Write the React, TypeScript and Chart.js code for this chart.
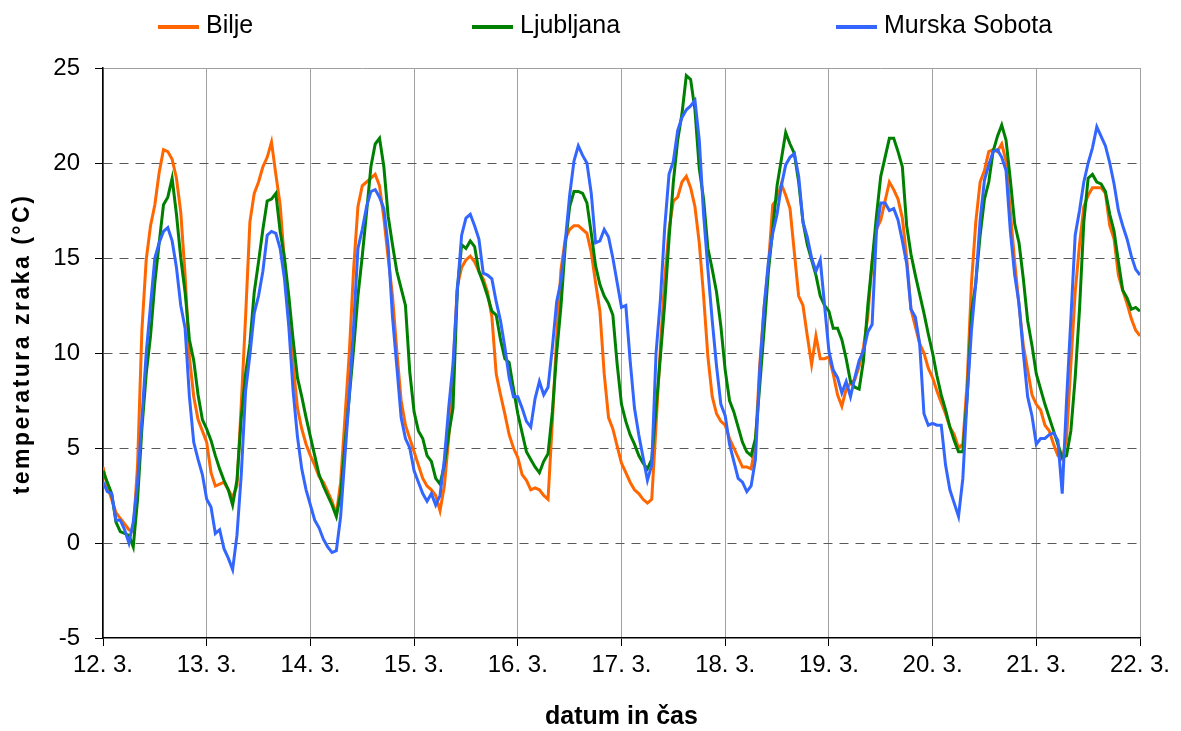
import React, { useEffect, useRef } from "react";
import { Chart, registerables } from "chart.js";

Chart.register(...registerables);
Chart.defaults.font.family = '"Liberation Sans", Arial, Helvetica, sans-serif';

// Day tick labels (x axis, one tick per day at 00:00)
const DAY_LABELS = ["12. 3.", "13. 3.", "14. 3.", "15. 3.", "16. 3.", "17. 3.", "18. 3.", "19. 3.", "20. 3.", "21. 3.", "22. 3."];
const HOURS_PER_DAY = 24;
const HOURS_PER_STEP = 1; // hourly readings

const SERIES_NAMES = ["Bilje", "Ljubljana", "Murska Sobota"];
const SERIES_COLORS = ["#FF6600", "#008000", "#3366FF"];

const BILJE = [
  4.0, 3.0, 2.3, 1.6, 1.3, 1.0, 0.7, 0.6, 4.1, 11.2, 14.9, 16.7, 17.8, 19.5, 20.7, 20.6, 20.2, 19.2, 17.4, 14.1, 9.8, 7.7, 6.5, 5.9,
  5.3, 3.7, 3.0, 3.1, 3.2, 2.8, 2.4, 3.0, 7.3, 11.9, 16.9, 18.4, 19.0, 19.8, 20.3, 21.1, 19.4, 17.8, 14.8, 11.7, 9.4, 7.1, 6.0, 5.2,
  4.6, 4.1, 3.5, 3.2, 2.7, 2.2, 1.5, 3.2, 6.6, 10.0, 14.4, 17.7, 18.8, 19.0, 19.2, 19.4, 18.8, 17.1, 15.0, 13.0, 10.1, 7.5, 6.2, 5.5,
  4.8, 4.1, 3.4, 3.0, 2.8, 2.5, 1.7, 3.0, 5.5, 9.1, 13.5, 14.5, 14.9, 15.1, 14.8, 14.3, 13.9, 13.2, 11.9, 8.9, 7.8, 6.8, 5.7, 5.0,
  4.5, 3.6, 3.3, 2.8, 2.9, 2.8, 2.5, 2.3, 6.4, 10.9, 14.4, 16.0, 16.5, 16.7, 16.7, 16.5, 16.3, 15.3, 13.7, 12.2, 8.9, 6.6, 6.0, 5.1,
  4.2, 3.7, 3.2, 2.8, 2.6, 2.3, 2.1, 2.3, 6.2, 10.3, 13.9, 16.5, 18.0, 18.2, 19.0, 19.3, 18.7, 17.7, 15.8, 13.0, 9.8, 7.7, 6.8, 6.4,
  6.2, 5.5, 5.0, 4.5, 4.0, 4.0, 3.9, 5.2, 9.4, 12.4, 14.6, 17.8, 18.1, 18.9, 18.3, 17.6, 15.3, 13.0, 12.5, 10.9, 9.4, 10.9, 9.7, 9.7,
  9.8, 8.9, 7.8, 7.2, 8.1, 8.4, 8.6, 9.3, 10.3, 11.9, 14.8, 16.5, 17.0, 18.0, 19.0, 18.6, 18.1, 17.1, 15.0, 12.3, 11.4, 10.5, 10.0, 9.2,
  8.7, 8.0, 7.4, 6.8, 6.1, 5.7, 5.0, 5.2, 8.5, 13.7, 16.9, 19.0, 19.6, 20.6, 20.7, 20.6, 21.0, 20.1, 17.4, 14.8, 12.5, 10.4, 9.1, 7.8,
  7.3, 7.0, 6.2, 5.9, 5.2, 4.6, 4.4, 5.5, 9.4, 13.2, 15.7, 17.7, 18.3, 18.7, 18.7, 18.7, 18.4, 16.7, 16.0, 14.1, 13.3, 12.6, 11.8, 11.2,
  10.9,
];

const LJUBLJANA = [
  3.8, 3.2, 2.6, 1.1, 0.6, 0.5, 0.4, -0.2, 2.3, 6.0, 8.9, 10.9, 13.7, 15.8, 17.8, 18.2, 19.2, 17.3, 15.0, 13.2, 10.7, 9.6, 7.8, 6.5,
  6.0, 5.4, 4.6, 3.9, 3.3, 2.8, 2.0, 3.3, 6.6, 8.9, 10.5, 13.2, 14.8, 16.5, 18.0, 18.1, 18.4, 16.4, 15.0, 13.0, 10.7, 8.7, 7.7, 6.6,
  5.6, 4.6, 3.6, 3.0, 2.5, 2.0, 1.4, 2.6, 5.2, 7.7, 10.2, 13.0, 15.1, 17.4, 19.8, 21.0, 21.3, 19.8, 17.2, 15.7, 14.3, 13.4, 12.5, 9.0,
  6.9, 5.9, 5.5, 4.6, 4.3, 3.4, 3.1, 4.1, 5.7, 7.1, 13.3, 15.7, 15.5, 15.9, 15.6, 14.3, 13.7, 13.0, 12.2, 12.0, 10.7, 9.7, 9.5, 8.1,
  6.8, 5.8, 4.8, 4.4, 4.0, 3.7, 4.3, 4.7, 6.9, 10.0, 12.5, 15.7, 17.7, 18.5, 18.5, 18.4, 17.9, 16.3, 14.6, 13.6, 13.0, 12.6, 12.0, 9.4,
  7.3, 6.4, 5.7, 5.2, 4.6, 4.2, 3.9, 4.4, 7.1, 9.8, 12.6, 16.0, 19.0, 21.2, 22.6, 24.6, 24.4, 22.8, 19.7, 18.1, 15.5, 14.4, 13.2, 11.4,
  9.1, 7.5, 6.9, 6.1, 5.3, 4.8, 4.6, 5.5, 8.3, 11.2, 14.3, 16.5, 18.8, 20.2, 21.6, 21.0, 20.5, 19.0, 16.9, 15.7, 14.9, 14.1, 13.0, 12.5,
  12.2, 11.3, 11.3, 10.7, 9.7, 8.5, 8.2, 8.1, 9.6, 12.5, 14.8, 17.2, 19.3, 20.3, 21.3, 21.3, 20.6, 19.8, 16.7, 15.2, 14.1, 13.1, 12.1, 11.0,
  10.0, 8.8, 7.8, 7.0, 6.1, 5.4, 4.8, 4.8, 7.7, 12.1, 13.7, 16.2, 18.1, 19.0, 20.6, 21.4, 22.0, 21.2, 19.1, 16.8, 15.8, 13.9, 11.7, 10.4,
  8.9, 8.1, 7.3, 6.6, 5.9, 5.2, 4.5, 4.6, 5.9, 8.7, 12.3, 16.9, 19.2, 19.4, 19.0, 18.9, 18.5, 17.3, 16.4, 14.8, 13.3, 12.9, 12.3, 12.4,
  12.2,
];

const MURSKA_SOBOTA = [
  3.2, 2.7, 2.6, 1.2, 1.2, 0.7, 0.0, 1.1, 3.2, 6.5, 10.0, 12.5, 15.0, 15.8, 16.4, 16.6, 15.9, 14.5, 12.5, 11.3, 7.7, 5.3, 4.4, 3.6,
  2.3, 1.9, 0.5, 0.7, -0.3, -0.8, -1.4, 0.4, 3.6, 8.0, 9.9, 12.1, 13.0, 14.3, 16.2, 16.4, 16.3, 15.5, 13.9, 11.4, 8.0, 5.6, 3.9, 2.8,
  2.0, 1.2, 0.8, 0.2, -0.2, -0.5, -0.4, 1.4, 4.6, 7.8, 11.4, 15.5, 16.5, 17.7, 18.5, 18.6, 18.2, 17.6, 15.6, 11.9, 9.3, 6.6, 5.5, 5.0,
  3.8, 3.2, 2.6, 2.2, 2.6, 2.0, 2.5, 4.4, 7.1, 9.4, 13.3, 16.2, 17.1, 17.3, 16.7, 16.0, 14.2, 14.1, 13.9, 12.7, 11.7, 10.3, 8.7, 7.7,
  7.7, 7.1, 6.4, 6.1, 7.6, 8.5, 7.8, 8.2, 10.3, 12.7, 13.8, 15.9, 18.3, 20.1, 20.9, 20.4, 20.0, 18.4, 15.8, 15.9, 16.5, 16.1, 15.0, 13.7,
  12.4, 12.5, 9.6, 7.1, 5.7, 4.5, 3.3, 4.1, 10.0, 12.8, 16.6, 19.4, 20.1, 21.7, 22.4, 22.8, 23.0, 23.3, 21.2, 17.3, 14.4, 11.7, 9.3, 7.3,
  6.7, 5.2, 4.3, 3.4, 3.2, 2.7, 3.0, 4.4, 9.1, 12.4, 14.8, 16.3, 17.3, 18.8, 19.9, 20.3, 20.5, 19.3, 16.9, 16.1, 15.0, 14.3, 14.9, 12.5,
  10.1, 9.1, 8.7, 7.9, 8.5, 7.7, 8.7, 9.6, 10.1, 11.1, 11.5, 16.4, 17.9, 17.9, 17.5, 17.6, 17.0, 15.9, 14.7, 12.3, 11.9, 10.5, 6.8, 6.2,
  6.3, 6.2, 6.2, 4.1, 2.8, 2.1, 1.4, 3.4, 7.7, 11.2, 13.7, 17.0, 19.1, 19.9, 20.6, 20.7, 20.3, 19.6, 16.4, 14.1, 12.6, 10.0, 7.7, 6.7,
  5.2, 5.5, 5.5, 5.7, 5.8, 5.4, 2.6, 7.5, 11.8, 16.2, 17.5, 19.0, 20.0, 20.8, 21.9, 21.4, 20.9, 20.0, 18.9, 17.5, 16.7, 16.0, 15.1, 14.4,
  14.1,
];

const Y_MIN = -5;
const Y_MAX = 25;
const Y_STEP = 5;

const X_TITLE = "datum in čas";
const Y_TITLE = "temperatura zraka (°C)";

const toPoints = (vals: number[]) => vals.map((y, i) => ({ x: i * HOURS_PER_STEP, y }));

const overlayPlugin = {
  id: "overlay",
  afterDraw(chart: any) {
    const ctx = chart.ctx as CanvasRenderingContext2D;
    const area = chart.chartArea;
    ctx.save();
    // legend
    const starts = [158, 472, 836];
    ctx.font = '25px "Liberation Sans", Arial, sans-serif';
    ctx.textBaseline = "alphabetic";
    ctx.textAlign = "left";
    SERIES_NAMES.forEach((name, i) => {
      const x = starts[i];
      ctx.strokeStyle = SERIES_COLORS[i];
      ctx.lineWidth = 4;
      ctx.beginPath();
      ctx.moveTo(x, 27);
      ctx.lineTo(x + 41, 27);
      ctx.stroke();
      ctx.fillStyle = "#000";
      ctx.fillText(name, x + 48, 33);
    });
    // y axis title
    ctx.translate(23, (area.top + area.bottom) / 2 - 9);
    ctx.rotate(-Math.PI / 2);
    ctx.font = 'bold 23px "Liberation Sans", Arial, sans-serif';
    (ctx as any).letterSpacing = "2.5px";
    ctx.textAlign = "center";
    ctx.textBaseline = "middle";
    ctx.fillStyle = "#000";
    ctx.fillText(Y_TITLE, 0, 0);
    (ctx as any).letterSpacing = "0px";
    ctx.restore();
  },
};

export default function App() {
  const canvasRef = useRef<HTMLCanvasElement | null>(null);

  useEffect(() => {
    if (!canvasRef.current) return;
    const seriesValues = [BILJE, LJUBLJANA, MURSKA_SOBOTA];
    const chart = new Chart(canvasRef.current, {
      type: "line",
      data: {
        datasets: seriesValues.map((vals, i) => ({
          label: SERIES_NAMES[i],
          data: toPoints(vals),
          borderColor: SERIES_COLORS[i],
          backgroundColor: SERIES_COLORS[i],
          borderWidth: 3,
          pointRadius: 0,
          tension: 0,
          fill: false,
          order: 2 - i,
        })),
      },
      options: {
        responsive: false,
        animation: false,
        devicePixelRatio: 1,
        layout: { padding: { left: 0, right: 41, top: 68, bottom: 0 } },
        plugins: {
          legend: { display: false },
          tooltip: { enabled: false },
          title: { display: false },
        },
        scales: {
          x: {
            type: "linear",
            min: 0,
            max: (DAY_LABELS.length - 1) * HOURS_PER_DAY,
            afterFit: (s: any) => {
              s.height = 93;
            },
            ticks: {
              stepSize: HOURS_PER_DAY,
              autoSkip: false,
              maxRotation: 0,
              color: "#000",
              padding: 5,
              font: { size: 24 },
              callback: (v: any) => DAY_LABELS[Math.round(Number(v) / HOURS_PER_DAY)] ?? "",
            },
            grid: {
              color: "#a0a0a0",
              lineWidth: 1,
              tickColor: "#000",
              tickLength: 8,
            },
            border: { color: "#000", width: 1.5 },
            title: {
              display: true,
              text: X_TITLE,
              color: "#000",
              font: { size: 25, weight: "bold", lineHeight: 1 },
              padding: { top: 0, bottom: 1 },
            },
          },
          y: {
            min: Y_MIN,
            max: Y_MAX,
            afterFit: (s: any) => {
              s.width = 103;
            },
            ticks: {
              stepSize: Y_STEP,
              color: "#000",
              padding: 15,
              font: { size: 24 },
            },
            grid: {
              color: (c: any) => {
                const v = c.tick ? c.tick.value : null;
                if (v === Y_MIN) return "rgba(0,0,0,0)";
                if (v === Y_MAX) return "#a0a0a0";
                return "#5a5a5a";
              },
              lineWidth: 1,
              tickColor: "#000",
              tickLength: 8,
            },
            border: {
              color: "#000",
              width: 1.5,
              dash: (c: any) => {
                const v = c && c.tick ? c.tick.value : null;
                return v !== null && v > Y_MIN && v < Y_MAX ? [9, 7] : [];
              },
            },
          },
        },
      } as any,
      plugins: [overlayPlugin],
    });
    return () => chart.destroy();
  }, []);

  return (
    <div style={{ position: "absolute", left: 0, top: 0, width: 1181, height: 731, background: "#fff" }}>
      <canvas ref={canvasRef} width={1181} height={731} style={{ display: "block" }} />
    </div>
  );
}
